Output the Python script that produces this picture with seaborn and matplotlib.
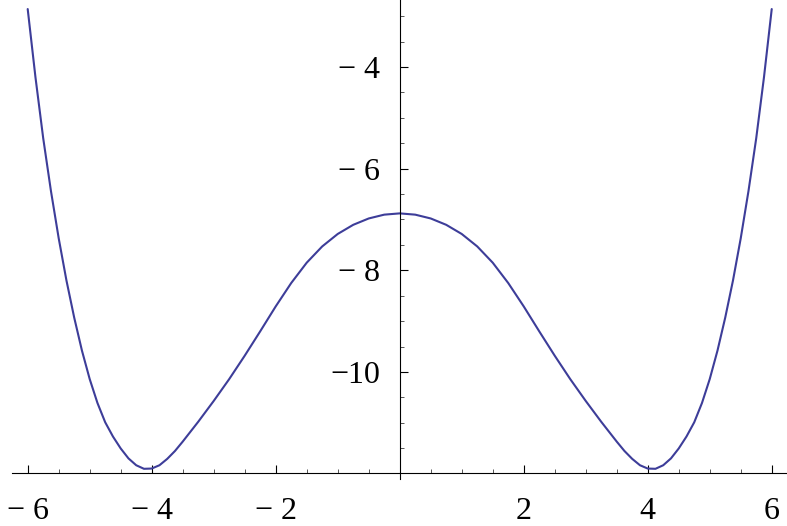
import numpy as np
import pandas as pd
import matplotlib
matplotlib.use('Agg')
import matplotlib.pyplot as plt
import seaborn as sns
from matplotlib.ticker import FixedLocator

# curve values (right half; the picture is symmetric)
x_right = [0.0, 0.25, 0.5, 0.75, 1.0, 1.25, 1.5, 1.75, 2.0, 2.25, 2.5, 2.75,
           3.0, 3.25, 3.5, 3.625, 3.75, 3.875, 4.0, 4.125, 4.25, 4.375, 4.5,
           4.625, 4.75, 4.875, 5.0, 5.125, 5.25, 5.375, 5.5, 5.625, 5.75,
           5.875, 6.0]
y_right = [-6.88, -6.905, -6.98, -7.105, -7.285, -7.53, -7.85, -8.25, -8.71,
           -9.20, -9.68, -10.14, -10.57, -10.98, -11.37, -11.555, -11.71,
           -11.835, -11.90, -11.905, -11.835, -11.70, -11.505, -11.27, -10.99,
           -10.61, -10.14, -9.58, -8.93, -8.20, -7.37, -6.44, -5.40, -4.20,
           -2.86]
x_left = [-v for v in x_right[:0:-1]]
y_left = y_right[:0:-1]

x_major = [-6, -4, -2, 2, 4, 6]
x_labels = ['\u2212 6', '\u2212 4', '\u2212 2', '2', '4', '6']
y_major = [-10, -8, -6, -4]
y_labels = ['\u221210', '\u2212 8', '\u2212 6', '\u2212 4']

CURVE = '#3D3D99'

df = pd.DataFrame({'x': x_left + x_right, 'y': y_left + y_right})

sns.set_theme(style='white')
plt.rcParams['font.family'] = ['Liberation Serif', 'DejaVu Serif']

fig = plt.figure(figsize=(7.87, 5.26), dpi=100)
ax = fig.add_axes([0.0155, 0.0899, 0.9848, 0.9101])

sns.lineplot(data=df, x='x', y='y', ax=ax, color=CURVE, linewidth=1.5,
             sort=False, estimator=None)

ax.set_xlim(-6.25, 6.25)
ax.set_ylim(-12.1, -2.682)

ax.spines['left'].set_position(('data', 0))
ax.spines['bottom'].set_position(('data', -11.98))
ax.spines['top'].set_visible(False)
ax.spines['right'].set_visible(False)
for s in ('left', 'bottom'):
    ax.spines[s].set_color('black')
    ax.spines[s].set_linewidth(0.8)

ax.xaxis.set_major_locator(FixedLocator(x_major))
ax.set_xticklabels(x_labels)
x_minor = [v / 2 for v in range(-12, 13) if v % 4 != 0]
ax.xaxis.set_minor_locator(FixedLocator(x_minor))

ax.yaxis.set_major_locator(FixedLocator(y_major))
ax.set_yticklabels(y_labels)
y_minor = [v / 2 for v in range(-23, -5) if v % 4 != 0]
ax.yaxis.set_minor_locator(FixedLocator(y_minor))

ax.tick_params(which='major', direction='in', length=5.8, width=0.8,
               color='black', labelsize=23, labelcolor='black')
ax.tick_params(which='minor', direction='in', length=3.2, width=0.7,
               color='#555555')
ax.tick_params(axis='x', which='major', pad=17.5)
ax.tick_params(axis='y', which='major', pad=14)
ax.tick_params(bottom=True, left=True, which='both')
ax.set_xlabel('')
ax.set_ylabel('')
ax.grid(False)

fig.savefig('out.png', dpi=100)
